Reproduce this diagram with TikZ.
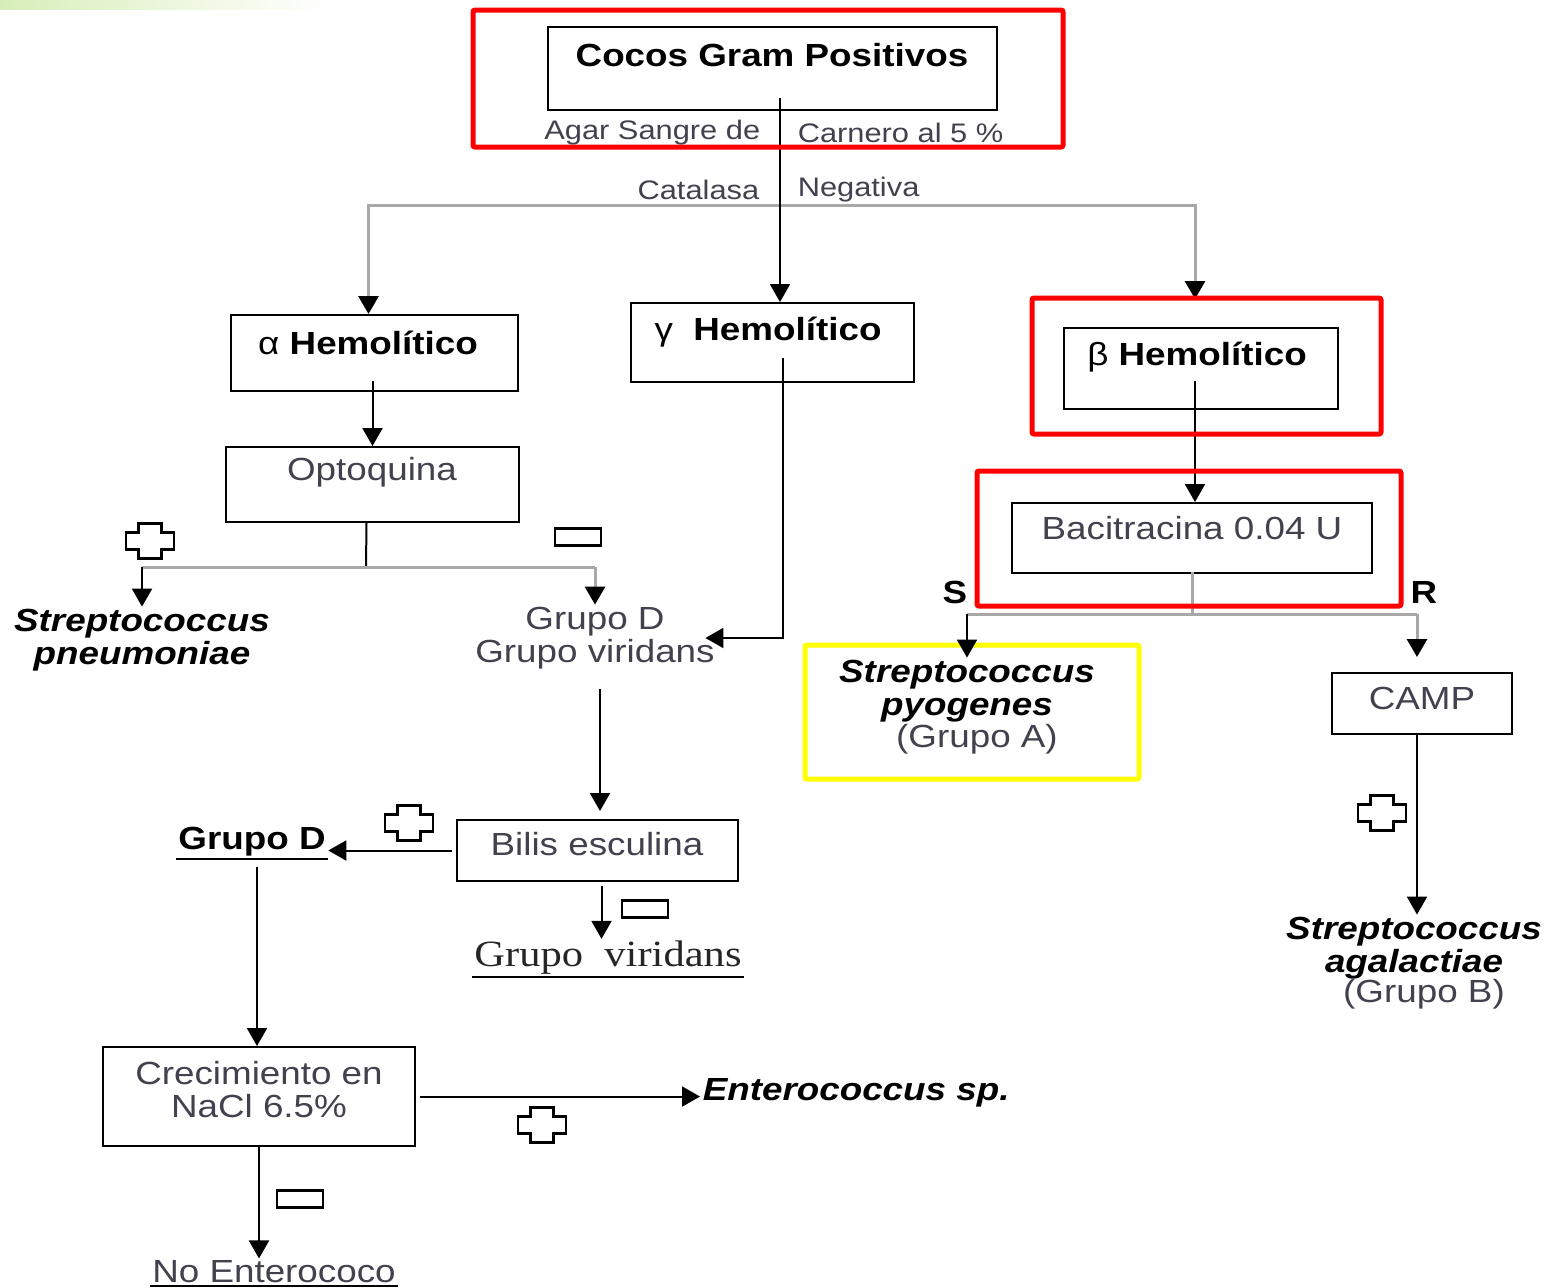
\documentclass[tikz,border=0pt]{standalone}
\usepackage{fontspec}
\setmainfont{Liberation Sans}
\newfontfamily\serifface{Liberation Serif}
\usepackage{xcolor}
\usepackage{tikz}
\usetikzlibrary{arrows.meta}
\definecolor{inkgray}{RGB}{66,66,78}
\definecolor{linkgray}{RGB}{168,168,168}
\definecolor{framered}{RGB}{255,0,0}
\definecolor{frameyellow}{RGB}{255,255,0}
\definecolor{mintleft}{RGB}{216,238,184}
\definecolor{mintmid}{RGB}{206,242,224}
\tikzset{% 
  test box/.style={%
    draw,
    line width=1pt,
    inner sep=0pt
  }
}
\tikzset{% 
  box size/.style 2 args={%
    minimum width=#1pt,
    minimum height=#2pt
  }
}
\tikzset{% 
  red frame/.style={%
    draw=framered,
    line width=2.5pt,
    inner sep=0pt,
    rounded corners=1pt
  }
}
\tikzset{% 
  yellow frame/.style={%
    draw=frameyellow,
    line width=2.5pt,
    inner sep=0pt,
    rounded corners=1pt
  }
}
\tikzset{% 
  plain text/.style={%
    font=\fontsize{16}{16.5}\selectfont,
    text=inkgray,
    xscale=1.15,
    inner sep=1pt,
    align=center
  }
}
\tikzset{% 
  small text/.style={%
    plain text,
    font=\fontsize{13.4}{14}\selectfont
  }
}
\tikzset{% 
  head text/.style={%
    plain text,
    font=\fontsize{16}{16.5}\selectfont\bfseries,
    text=black
  }
}
\tikzset{% 
  species text/.style={%
    plain text,
    font=\fontsize{16}{16.5}\selectfont\bfseries\itshape,
    text=black
  }
}
\tikzset{% 
  flow arrow/.style={%
    draw=black,
    line width=1pt,
    -{Triangle[width=10pt,length=9pt]}
  }
}
\tikzset{% 
  flow line/.style={%
    draw=black,
    line width=1pt
  }
}
\tikzset{% 
  branch line/.style={%
    draw=linkgray,
    line width=1.5pt
  }
}
\tikzset{% 
  branch arrow/.style={%
    branch line,
    -{Triangle[width=10pt,length=9pt,color=black]}
  }
}
\tikzset{% 
  plus sign/.pic={%
    \draw [line width=1.1pt, fill=white]
      (-11.5,-17.5) -- (11.5,-17.5) -- (11.5,-8.5) -- (24,-8.5) -- (24,8.5) -- (11.5,8.5)
      -- (11.5,17.5) -- (-11.5,17.5) -- (-11.5,8.5) -- (-24,8.5) -- (-24,-8.5) -- (-11.5,-8.5) -- cycle;
  }
}
\tikzset{% 
  minus sign/.pic={%
    \draw [line width=1.1pt, fill=white] (-23,-8.5) rectangle (23,8.5);
  }
}
\begin{document}
\begin{tikzpicture}[x=0.5pt,y=-0.5pt]
  \useasboundingbox (0,0) rectangle (1552,1287);
  \shade [left color=mintleft, middle color=mintmid, right color=white] (0,0) rectangle (330,9);

  \node [test box, box size={224.5}{41.5}] (cocos) at (772.5,68.5) {};
  \node [test box, box size={143.5}{38}] (alpha) at (374.5,353) {};
  \node [test box, box size={141.5}{39.5}] (gamma) at (772.5,342.5) {};
  \node [test box, box size={137}{40.5}] (beta) at (1201,368.5) {};
  \node [test box, box size={146.5}{37.5}] (opto) at (372.5,484.5) {};
  \node [test box, box size={180}{35}] (bacit) at (1192,538) {};
  \node [test box, box size={90}{30.5}] (camp) at (1422,703.5) {};
  \node [test box, box size={140.5}{30.5}] (bilis) at (597.5,850.5) {};
  \node [test box, box size={156}{49.5}] (nacl) at (259,1096.5) {};
  \node [yellow frame, box size={167}{67}] (pyogframe) at (972,712) {};

  \node [head text] (cocostext) at (772,55) {Cocos Gram Positivos};
  \node [small text, anchor=east] (agar) at (763,133) {Agar Sangre de};
  \node [small text, anchor=west] (carnero) at (795,133) {Carnero al 5 \%};
  \node [small text, anchor=east] (catalasa) at (762,190) {Catalasa};
  \node [small text, anchor=west] (negativa) at (795,190) {Negativa};
  \node [head text] (alphatext) at (368,343) {{\mdseries α} Hemolítico};
  \node [head text] (gammatext) at (768,332) {{\mdseries γ}\ \ Hemolítico};
  \node [head text] (betatext) at (1197,357) {{\mdseries β} Hemolítico};
  \node [plain text] (optotext) at (372,472) {Optoquina};
  \node [plain text] (bacittext) at (1192,528) {Bacitracina 0.04 U};
  \node [plain text] (camptext) at (1422,698) {CAMP};
  \node [plain text] (bilistext) at (597,844) {Bilis esculina};
  \node [plain text] (nacltext) at (259,1090) {Crecimiento en\\NaCl 6.5\%};
  \node [species text] (pneumo) at (142,640) {Streptococcus\\pneumoniae};
  \node [plain text] (grupos) at (595,638) {Grupo D\\Grupo viridans};
  \node [head text] (grupod) at (252,842) {Grupo D};
  \node [plain text, font=\fontsize{18.5}{19}\serifface, text=black!85] (viridans) at (608,958) {Grupo\ \ viridans};
  \node [plain text] (noentero) at (274,1272) {No Enterococo};
  \node [species text, anchor=west] (entero) at (700,1093) {Enterococcus sp.};
  \node [species text] (pyog) at (967,691) {Streptococcus\\pyogenes};
  \node [plain text] (grupoa) at (977,739) {(Grupo A)};
  \node [species text] (agal) at (1414,948) {Streptococcus\\agalactiae};
  \node [plain text] (grupob) at (1424,994) {(Grupo B)};
  \node [head text] (sens) at (955,592) {S};
  \node [head text] (resist) at (1424,592) {R};

  \draw [line width=1pt] (grupod.south west) -- (grupod.south east);
  \draw [line width=1pt] (viridans.south west) -- (viridans.south east);
  \draw [line width=1pt] (noentero.south west) -- (noentero.south east);

  \pic at (150,541) {plus sign};
  \pic at (409,823) {plus sign};
  \pic at (542,1125) {plus sign};
  \pic at (1382,813) {plus sign};
  \pic at (578,537) {minus sign};
  \pic at (645,909) {minus sign};
  \pic at (300,1199) {minus sign};

  \coordinate (catsplit) at (780,205);
  \coordinate (optosplit) at (366,567);
  \coordinate (bacsplit) at (1192,614);
  \draw [branch arrow] (catsplit) -| ([xshift=-3pt]alpha.north);
  \draw [branch arrow] (catsplit) -| ([shift={(-6,-28)}]beta.north);
  \draw [flow arrow] ([shift={(7.5,-13)}]cocos.south) -- ([xshift=3.75pt]gamma.north);
  \draw [flow arrow] ([shift={(-2,-11)}]alpha.south) -- ([xshift=-1pt]alpha.south |- opto.north);
  \draw [flow line] ([xshift=-3pt]opto.south) -- (optosplit);
  \draw [branch line] (pneumo.north |- optosplit) -- (grupos.north |- optosplit);
  \draw [flow arrow] (pneumo.north |- optosplit) -- (pneumo.north);
  \draw [branch arrow] (grupos.north |- optosplit) -- (grupos.north);
  \draw [flow arrow] ([shift={(10.5,-25)}]gamma.south) |- ([xshift=-6pt]grupos.east);
  \draw [flow arrow, shorten <=9pt, shorten >=4pt] ([xshift=2.5pt]grupos.south) -- ([xshift=2.5pt]grupos.south |- bilis.north);
  \draw [flow arrow, shorten <=2pt] (bilis.west) -- (bilis.west -| grupod.east);
  \draw [flow arrow, shorten <=4pt] ([xshift=2.5pt]grupod.south) -- ([xshift=2.5pt]grupod.south |- nacl.north);
  \draw [flow arrow, shorten <=2pt] ([xshift=2pt]bilis.south) -- ([xshift=2pt]bilis.south |- viridans.north);
  \draw [flow arrow, shorten <=2pt] (nacl.east) -- (nacl.east -| entero.west);
  \draw [flow arrow] (nacl.south) -- (nacl.south |- noentero.north);
  \draw [flow arrow] ([shift={(-6,-29)}]beta.south) -- ([xshift=1.5pt]bacit.north);
  \draw [branch line] ([yshift=1pt]bacit.south) -- (bacsplit);
  \draw [branch line] (pyog.north |- bacsplit) -- ([xshift=-2.5pt]camp.north |- bacsplit);
  \draw [flow arrow] (pyog.north |- bacsplit) -- (pyog.north);
  \draw [branch arrow] ([xshift=-2.5pt]camp.north |- bacsplit) -- ([shift={(-5,-15)}]camp.north);
  \draw [flow arrow] ([xshift=-2.5pt]camp.south) -- ([xshift=-2.5pt]camp.south |- agal.north);

  \node [red frame, box size={295}{68.5}] (cocosframe) at (768,78.5) {};
  \node [red frame, box size={174.5}{68}] (betaframe) at (1206.5,366) {};
  \node [red frame, box size={212}{67.5}] (bacitframe) at (1189,538.5) {};
\end{tikzpicture}
\end{document}
